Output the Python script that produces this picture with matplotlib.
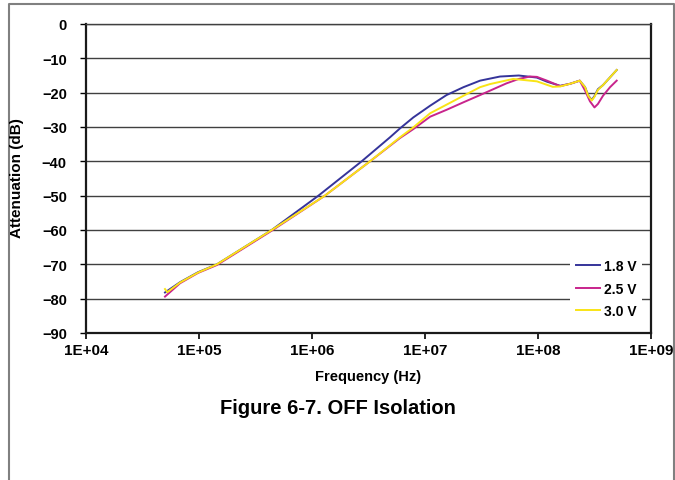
import numpy as np
import matplotlib.pyplot as plt
from matplotlib.lines import Line2D

plt.rcParams['font.family'] = ['Liberation Sans', 'DejaVu Sans']
plt.rcParams['font.weight'] = 'bold'

# frequency (Hz) and attenuation (dB)
freq_18 = [5.0e4, 6.8e4, 9.8e4, 1.44e5, 4.4e5, 1.14e6, 2.75e6, 4.90e6, 6.01e6,
           7.89e6, 1.11e7, 1.55e7, 2.19e7, 3.07e7, 4.61e7, 6.76e7, 9.77e7,
           1.20e8, 1.57e8, 1.93e8, 2.34e8, 2.61e8, 2.79e8, 2.99e8, 3.16e8,
           3.39e8, 3.76e8, 4.97e8]
atten_18 = [-78.2, -75.2, -72.3, -70.0, -60.0, -50.0, -40.0, -33.0, -30.4,
            -27.2, -23.8, -20.7, -18.4, -16.5, -15.3, -15.0, -15.6,
            -16.8, -18.0, -17.4, -16.5, -18.4, -20.9, -22.1, -21.0,
            -19.0, -17.8, -13.4]

freq_25 = [5.0e4, 6.8e4, 9.8e4, 1.44e5, 4.4e5, 1.30e6, 3.26e6, 6.01e6, 7.89e6,
           1.11e7, 1.55e7, 2.19e7, 3.07e7, 5.25e7, 6.76e7, 8.5e7, 9.77e7,
           1.20e8, 1.57e8, 1.93e8, 2.34e8, 2.61e8, 2.88e8, 3.16e8, 3.39e8,
           3.76e8, 4.34e8, 4.97e8]
atten_25 = [-79.4, -75.5, -72.5, -70.2, -60.2, -50.0, -40.0, -33.2, -30.6,
            -27.0, -25.0, -22.8, -20.7, -17.3, -16.0, -15.3, -15.4,
            -16.5, -18.1, -17.4, -16.5, -19.4, -22.5, -24.3, -23.3,
            -20.9, -18.4, -16.5]

freq_30 = [5.0e4, 5.25e4, 6.8e4, 9.8e4, 1.44e5, 4.4e5, 1.30e6, 3.26e6, 6.01e6,
           7.89e6, 1.11e7, 1.55e7, 2.19e7, 3.07e7, 3.76e7, 6.03e7, 9.77e7,
           1.35e8, 1.57e8, 1.93e8, 2.34e8, 2.61e8, 2.79e8, 2.99e8, 3.16e8,
           3.39e8, 3.76e8, 4.97e8]
atten_30 = [-77.2, -78.1, -75.3, -72.4, -70.0, -60.0, -50.0, -40.0, -33.0,
            -30.1, -26.0, -23.5, -20.9, -18.4, -17.5, -16.0, -16.7,
            -18.3, -18.2, -17.4, -16.5, -18.4, -21.0, -22.3, -21.2,
            -19.2, -17.8, -13.4]

series_labels = ['1.8 V', '2.5 V', '3.0 V']
series_colors = ['#35349a', '#c8248c', '#f9e416']

x_ticks = [1e4, 1e5, 1e6, 1e7, 1e8, 1e9]
x_tick_labels = ['1E+04', '1E+05', '1E+06', '1E+07', '1E+08', '1E+09']
y_ticks = [0, -10, -20, -30, -40, -50, -60, -70, -80, -90]

fig = plt.figure(figsize=(6.75, 4.81), dpi=100)
ax = fig.add_axes([86 / 675, 1 - 334 / 481, 565 / 675, 309 / 481])

for f, a, lab, col in zip([freq_18, freq_25, freq_30], [atten_18, atten_25, atten_30],
                          series_labels, series_colors):
    ax.plot(f, a, color=col, lw=1.4, label=lab)

ax.set_xscale('log')
ax.set_xlim(1e4, 1e9)
ax.set_ylim(-90, 0)
ax.set_xticks(x_ticks)
ax.set_xticklabels(x_tick_labels)
ax.minorticks_off()
ax.set_yticks(y_ticks)
ax.yaxis.grid(True, color='#404040', lw=1.0)
ax.set_axisbelow(True)

for side in ['left', 'bottom', 'right']:
    ax.spines[side].set_linewidth(1.6)
    ax.spines[side].set_color('#1a1a1a')
ax.spines['top'].set_linewidth(1.0)
ax.spines['top'].set_color('#404040')

ax.tick_params(axis='x', direction='out', length=4, width=1.2, pad=3, labelsize=11)
ax.tick_params(axis='y', direction='out', length=4, width=1.0, pad=9.8, labelsize=10.5)
for t in ax.get_xticklabels() + ax.get_yticklabels():
    t.set_fontweight('bold')

leg = ax.legend(loc='center left', bbox_to_anchor=(0.857, 0.144), borderaxespad=0,
                frameon=True, fancybox=False, edgecolor='none', facecolor='white',
                framealpha=1, fontsize=10, handlelength=1.75, handletextpad=0.3,
                labelspacing=0.6, borderpad=0.4)
for t in leg.get_texts():
    t.set_fontweight('bold')

fig.text(368.5 / 675, 1 - 377 / 481, 'Frequency (Hz)', ha='center', va='center',
         fontsize=10.5, fontweight='bold')
fig.text(17.5 / 675, 1 - 178.5 / 481, 'Attenuation (dB)', ha='center', va='center',
         rotation=90, fontsize=11, fontweight='bold')
fig.text(337.5 / 675, 1 - 408 / 481, 'Figure 6-7. OFF Isolation', ha='center', va='center',
         fontsize=14.5, fontweight='bold')

# grey page frame (open at the bottom)
frame_x = [9 / 675, 9 / 675, 674 / 675, 674 / 675]
frame_y = [0.0, 1 - 5 / 481, 1 - 5 / 481, 0.0]
fig.add_artist(Line2D(frame_x, frame_y, transform=fig.transFigure, color='#808080', lw=1.5))

fig.savefig('out.png', dpi=100)
